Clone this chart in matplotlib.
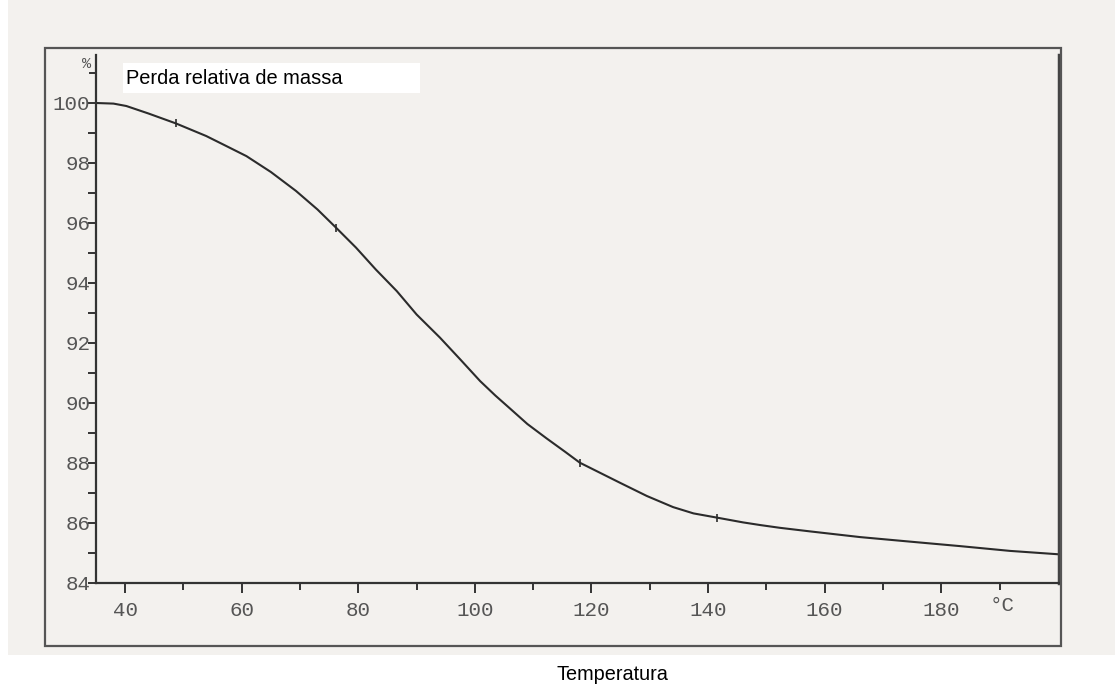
import numpy as np
import matplotlib
matplotlib.use("Agg")
import matplotlib.pyplot as plt
from matplotlib.patches import Rectangle

# curva (temperatura em C, massa em %)
temperatura = [35, 38, 40.2, 44, 48.7, 53.9, 57, 60.8, 65, 69.3, 73, 76.2, 79.6, 83, 86.6, 90,
               94.0, 97.5, 100.9, 103.5, 106.0, 109, 112.3, 115.5, 118.0, 121.5, 124.9, 129.5,
               134.0, 137.5, 141.5, 146, 149, 152.3, 157.5, 166.1, 174.6, 183.2, 191.8, 199.9]
massa = [100.0, 99.98, 99.9, 99.65, 99.32, 98.9, 98.6, 98.23, 97.7, 97.07, 96.45, 95.84,
         95.18, 94.45, 93.73, 92.95, 92.18, 91.45, 90.73, 90.25, 89.82, 89.3, 88.82, 88.37,
         88.01, 87.67, 87.34, 86.9, 86.53, 86.32, 86.18, 86.02, 85.93, 85.84, 85.72, 85.53,
         85.38, 85.23, 85.07, 84.96]
marcas_t = [48.7, 76.2, 118.0, 141.5]
marcas_m = [99.32, 95.84, 88.01, 86.18]

xticks = [40, 60, 80, 100, 120, 140, 160, 180]
yticks = [84, 86, 88, 90, 92, 94, 96, 98, 100]

W, H = 1115, 686
fig = plt.figure(figsize=(W/100, H/100), dpi=100)
fig.patch.set_facecolor("white")

# papel digitalizado
fig.add_artist(Rectangle((8/W, 1-655/H), (W-8)/W, 655/H, transform=fig.transFigure,
                         facecolor="#f3f1ee", edgecolor="none", zorder=0))
# moldura externa
fig.add_artist(Rectangle((45/W, 1-646/H), (1061-45)/W, (646-48)/H, transform=fig.transFigure,
                         facecolor="none", edgecolor="#555555", lw=1.6, zorder=1))

ax = fig.add_axes([96/W, 1-583/H, (1059-96)/W, (583-55)/H])
ax.set_facecolor("none")
ax.plot(temperatura, massa, color="#2b2b2b", lw=1.5)
ax.plot(marcas_t, marcas_m, ls="none", marker="|", ms=6, mew=1.2, color="#2b2b2b")

ax.set_xlim(35, 200.2)
ax.set_ylim(84, 101.6)
ax.spines["top"].set_visible(False)
for s in ["left", "bottom"]:
    ax.spines[s].set_color("#333333")
    ax.spines[s].set_linewidth(1.6)
ax.spines["right"].set_color("#444444")
ax.spines["right"].set_linewidth(2.5)

mono = "Liberation Mono"
ax.set_xticks(xticks)
ax.set_xticklabels([str(t) for t in xticks], fontsize=15, family=mono, color="#555555")
ax.set_xticks(np.arange(50, 200, 20), minor=True)
ax.set_yticks(yticks)
ax.set_yticklabels([str(t) for t in yticks], fontsize=15, family=mono, color="#555555")
ax.set_yticks(np.arange(85, 101, 2), minor=True)
ax.tick_params(axis="x", which="major", direction="out", length=7, width=1.4, color="#333333", pad=6)
ax.tick_params(axis="x", which="minor", direction="out", length=5, width=1.4, color="#333333")
ax.tick_params(axis="y", which="major", direction="out", length=6, width=1.4, color="#333333", pad=-2)
ax.tick_params(axis="y", which="minor", direction="out", length=6, width=1.4, color="#333333")

ax.text(190.5, 83.25, "°C", ha="center", va="center", fontsize=15, family=mono, color="#555555")
ax.plot([35, 34.0], [101.0, 101.0], color="#333333", lw=1.4, clip_on=False)
ax.text(33.4, 101.3, "%", ha="center", va="center", fontsize=11, family=mono, color="#555555")

# caixa do titulo
fig.add_artist(Rectangle((123/W, 1-93/H), (420-123)/W, 30/H, transform=fig.transFigure,
                         facecolor="white", edgecolor="none", zorder=3))
fig.text(126/W, 1-78/H, "Perda relativa de massa", fontsize=14.4, family="Liberation Sans",
         color="black", va="center", ha="left", zorder=4)

fig.text(612/W, 1-675/H, "Temperatura", fontsize=14.3, family="Liberation Sans",
         color="black", va="center", ha="center")

fig.savefig("out.png", dpi=100)
